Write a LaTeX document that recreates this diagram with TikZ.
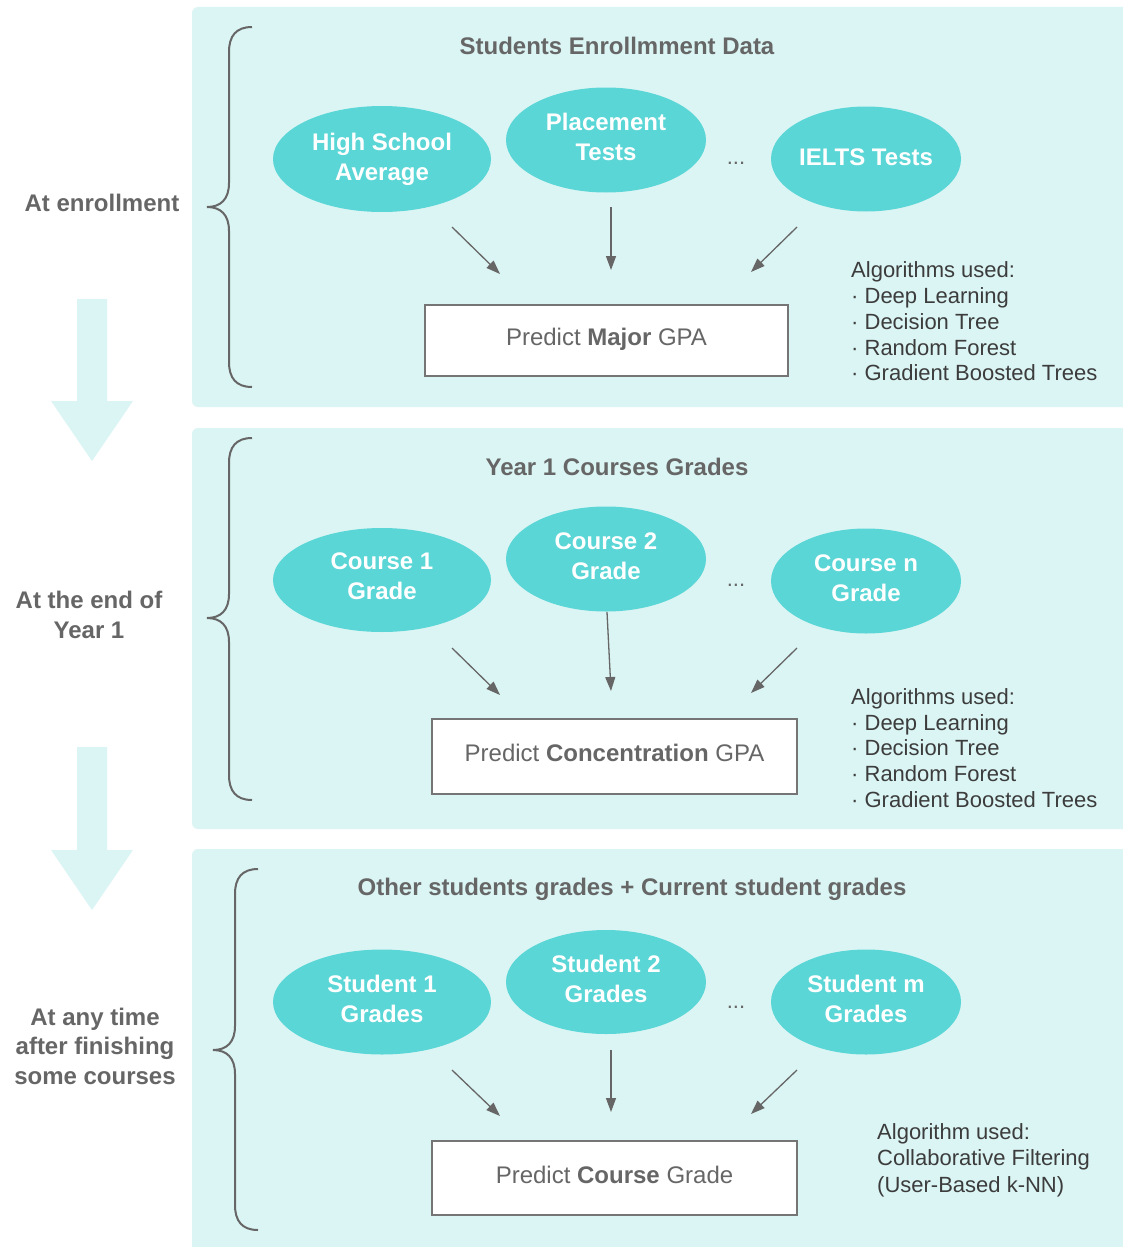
\documentclass[tikz,border=0pt]{standalone}
\usepackage{fontspec}
\setmainfont{Liberation Sans}
\usetikzlibrary{shapes.geometric,arrows.meta}
\definecolor{panel}{HTML}{DBF5F4}
\definecolor{ell}{HTML}{5AD6D6}
\definecolor{gr}{HTML}{666666}
\definecolor{dk}{HTML}{3C3C3C}
\newcommand{\liftlines}[2]{\raisebox{#1}[\height][\depth]{\begin{tabular}{@{}c@{}}#2\end{tabular}}}
\tikzset{
  panelbox/.style={fill=panel, draw=none, rounded corners=6pt},
  bigarrow/.style={fill=panel, draw=none},
  ellnode/.style={ellipse, fill=ell, draw=none, inner sep=0pt, text=white,
    font=\fontsize{24}{30}\selectfont\bfseries},
  predbox/.style={draw=gr!90, line width=1.1pt, fill=white, inner sep=0pt,
    font=\fontsize{24}{30}\selectfont, text=gr},
  titletext/.style={font=\fontsize{24}{30}\selectfont\bfseries, text=gr, inner sep=0pt},
  sidetext/.style={font=\fontsize{24}{29.5}\selectfont\bfseries, text=gr, align=center, inner sep=0pt},
  algtext/.style={font=\fontsize{22}{25.7}\selectfont, text=dk, align=left, anchor=west, inner sep=0pt},
  dotstext/.style={font=\fontsize{22}{26}\selectfont, text=gr, inner sep=0pt},
  conn/.style={draw=gr, line width=1.3pt, -{Triangle[length=14pt,width=10pt]}},
  bracepath/.style={draw=gr, line width=2pt},
}
\begin{document}
\begin{tikzpicture}[x=1pt,y=-1pt]
\useasboundingbox (0,0) rectangle (1123,1247);
\fill[white] (0,0) rectangle (1123,1247);

% panels
\path[panelbox] (192,7) rectangle (1140,407);
\path[panelbox] (192,428) rectangle (1140,829);
\path[panelbox] (192,849) rectangle (1140,1254);

% big arrows
\path[bigarrow] (77,299) -- (107,299) -- (107,401) -- (133,401) -- (92,461) -- (51,401) -- (77,401) -- cycle;
\path[bigarrow] (77,747) -- (107,747) -- (107,850) -- (133,850) -- (92,910) -- (51,850) -- (77,850) -- cycle;

% braces
\draw[bracepath] (252,27) .. controls (236,27) and (229,36) .. (229,52) -- (229,183)
  .. controls (229,199) and (221,207) .. (207,207)
  .. controls (221,207) and (229,215) .. (229,231) -- (229,362)
  .. controls (229,378) and (236,387) .. (252,387);
\draw[bracepath] (252,438) .. controls (236,438) and (229,447) .. (229,463) -- (229,594)
  .. controls (229,610) and (221,618) .. (207,618)
  .. controls (221,618) and (229,626) .. (229,642) -- (229,775)
  .. controls (229,791) and (236,800) .. (252,800);
\draw[bracepath] (258,869) .. controls (242,869) and (235,878) .. (235,894) -- (235,1026)
  .. controls (235,1042) and (227,1050) .. (213,1050)
  .. controls (227,1050) and (235,1058) .. (235,1074) -- (235,1205)
  .. controls (235,1221) and (242,1230) .. (258,1230);

% side labels
\node[sidetext] (s1) at (102,203) {At enrollment};
\node[sidetext] (s2) at (89,615) {At the end of\\Year 1};
\node[sidetext] (s3) at (95,1046) {At any time\\after finishing\\some courses};

% ---------- panel 1 ----------
\node[titletext] (t1) at (617,46) {Students Enrollmment Data};
\node[ellnode, minimum width=218pt, minimum height=106pt] (e11) at (382,159) {\liftlines{0pt}{High School\\Average}};
\node[ellnode, minimum width=200pt, minimum height=105pt] (e12) at (606,140) {\liftlines{1pt}{Placement\\Tests}};
\node[ellnode, minimum width=190pt, minimum height=105pt] (e13) at (866,159) {\liftlines{0pt}{IELTS Tests}};
\node[dotstext] (d1) at (736,163) {...};
\node[predbox, minimum width=363pt, minimum height=71pt] (p1) at (606.5,340.5) {\liftlines{1pt}{Predict \textbf{Major} GPA}};
\coordinate (a11s) at (452,227); \coordinate (a11e) at (500,274);
\coordinate (a12s) at (611,207); \coordinate (a12e) at (611,270);
\coordinate (a13s) at (797,227); \coordinate (a13e) at (751,272);
\draw[conn] (a11s) -- (a11e);
\draw[conn] (a12s) -- (a12e);
\draw[conn] (a13s) -- (a13e);
\node[algtext] (g1) at (851,321.5) {Algorithms used:\\· Deep Learning\\· Decision Tree\\· Random Forest\\· Gradient Boosted Trees};

% ---------- panel 2 ----------
\node[titletext] (t2) at (617,467) {Year 1 Courses Grades};
\node[ellnode, minimum width=218pt, minimum height=104pt] (e21) at (382,580) {\liftlines{2pt}{Course 1\\Grade}};
\node[ellnode, minimum width=200pt, minimum height=105pt] (e22) at (606,559) {\liftlines{1pt}{Course 2\\Grade}};
\node[ellnode, minimum width=190pt, minimum height=105pt] (e23) at (866,581) {\liftlines{1pt}{Course n\\Grade}};
\node[dotstext] (d2) at (736,585) {...};
\node[predbox, minimum width=365pt, minimum height=75pt] (p2) at (614.5,756.5) {\liftlines{1.5pt}{Predict \textbf{Concentration} GPA}};
\coordinate (a21s) at (452,648); \coordinate (a21e) at (500,695);
\coordinate (a22s) at (607,612); \coordinate (a22e) at (611,691);
\coordinate (a23s) at (797,648); \coordinate (a23e) at (751,693);
\draw[conn] (a21s) -- (a21e);
\draw[conn] (a22s) -- (a22e);
\draw[conn] (a23s) -- (a23e);
\node[algtext] (g2) at (851,748) {Algorithms used:\\· Deep Learning\\· Decision Tree\\· Random Forest\\· Gradient Boosted Trees};

% ---------- panel 3 ----------
\node[titletext] (t3) at (632,889) {Other students grades + Current student grades};
\node[ellnode, minimum width=218pt, minimum height=105pt] (e31) at (382,1002) {\liftlines{0.5pt}{Student 1\\Grades}};
\node[ellnode, minimum width=200pt, minimum height=104pt] (e32) at (606,982) {\liftlines{0.5pt}{Student 2\\Grades}};
\node[ellnode, minimum width=190pt, minimum height=105pt] (e33) at (866,1002) {\liftlines{0.5pt}{Student m\\Grades}};
\node[dotstext] (d3) at (736,1007) {...};
\node[predbox, minimum width=365pt, minimum height=74pt] (p3) at (614.5,1178) {\liftlines{1pt}{Predict \textbf{Course} Grade}};
\coordinate (a31s) at (452,1070); \coordinate (a31e) at (500,1116);
\coordinate (a32s) at (611,1050); \coordinate (a32e) at (611,1112);
\coordinate (a33s) at (797,1070); \coordinate (a33e) at (751,1114);
\draw[conn] (a31s) -- (a31e);
\draw[conn] (a32s) -- (a32e);
\draw[conn] (a33s) -- (a33e);
\node[algtext, font=\fontsize{22}{26.5}\selectfont] (g3) at (877,1160) {Algorithm used:\\Collaborative Filtering\\(User-Based k-NN)};
\end{tikzpicture}
\end{document}
